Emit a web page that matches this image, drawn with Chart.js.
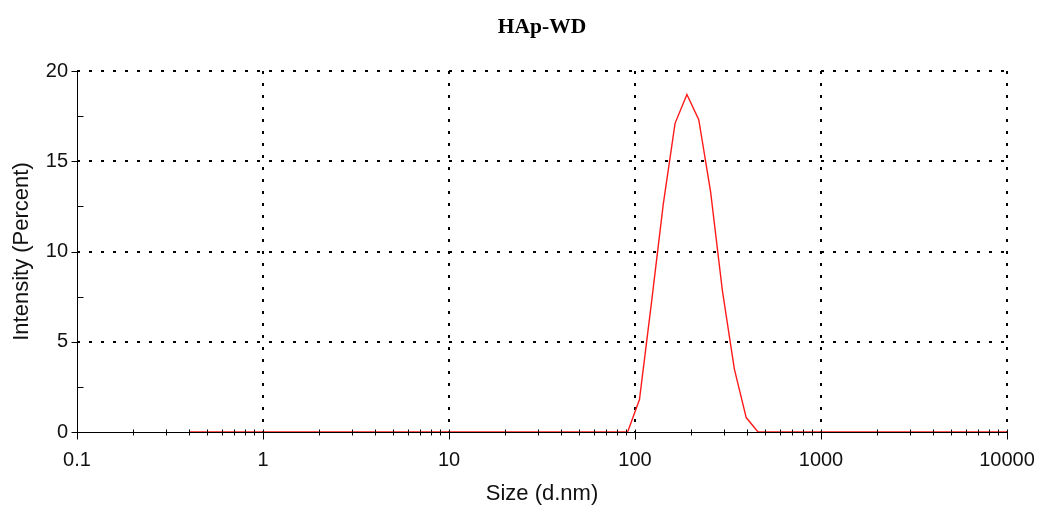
<!DOCTYPE html>
<html>
<head>
<meta charset="utf-8">
<script src="https://cdn.jsdelivr.net/npm/chart.js@4/dist/chart.umd.min.js"></script>
<style>
  html, body { margin: 0; padding: 0; background: #ffffff; }
  #wrap { width: 1045px; height: 508px; }
</style>
</head>
<body>
<div id="wrap"><canvas id="c" width="1045" height="508"></canvas></div>
<script>
// Size bins (d.nm)
const sizes = [0.4, 0.4632, 0.5365, 0.6213, 0.7195, 0.8332, 0.9649, 1.117, 1.294, 1.499,
  1.736, 2.01, 2.328, 2.696, 3.122, 3.615, 4.187, 4.849, 5.615, 6.503,
  7.531, 8.721, 10.1, 11.7, 13.54, 15.69, 18.17, 21.04, 24.36, 28.21,
  32.67, 37.84, 43.82, 50.75, 58.77, 68.06, 78.82, 91.28, 105.7, 122.4,
  141.8, 164.2, 190.1, 220.2, 255.0, 295.3, 342.0, 396.1, 458.7, 531.2,
  615.1, 712.4, 825.0, 955.4, 1106, 1281, 1484, 1718, 1990, 2305,
  2669, 3091, 3580, 4145, 4801, 5560, 6439, 7456, 8635, 10000];
// Intensity (Percent)
const intensity = [0, 0, 0, 0, 0, 0, 0, 0, 0, 0,
  0, 0, 0, 0, 0, 0, 0, 0, 0, 0,
  0, 0, 0, 0, 0, 0, 0, 0, 0, 0,
  0, 0, 0, 0, 0, 0, 0, 0, 1.8, 7.1,
  12.6, 17.1, 18.7, 17.3, 13.3, 7.8, 3.5, 0.8, 0, 0,
  0, 0, 0, 0, 0, 0, 0, 0, 0, 0,
  0, 0, 0, 0, 0, 0, 0, 0, 0, 0];
const xMajorTicks = [0.1, 1, 10, 100, 1000, 10000];
const xTickLabels = ['0.1', '1', '10', '100', '1000', '10000'];
const yMajorTicks = [0, 5, 10, 15, 20];
const yMinorTicks = [2.5, 7.5, 12.5, 17.5];
const titleText = 'HAp-WD';
const xTitle = 'Size (d.nm)';
const yTitle = 'Intensity (Percent)';

const points = sizes.map((s, i) => ({ x: s, y: intensity[i] }));

function isXMajor(v) { return xMajorTicks.some(m => Math.abs(v - m) / m < 1e-6); }
function isYMajor(v) { return yMajorTicks.some(m => Math.abs(v - m) < 1e-6); }

const axisPlugin = {
  id: 'axisTicks',
  afterDatasetsDraw(chart) {
    const ctx = chart.ctx;
    const xs = chart.scales.x, ys = chart.scales.y;
    const y0 = Math.round(ys.getPixelForValue(0)) + 0.5;
    const x0 = Math.round(xs.getPixelForValue(xMajorTicks[0])) + 0.5;
    ctx.save();
    ctx.strokeStyle = '#000';
    ctx.lineWidth = 1;
    ctx.beginPath();
    ctx.moveTo(xs.left, y0); ctx.lineTo(xs.right, y0);
    ctx.moveTo(x0, ys.top); ctx.lineTo(x0, y0);
    xs.ticks.forEach(t => {
      const px = Math.round(xs.getPixelForValue(t.value)) + 0.5;
      if (isXMajor(t.value)) { ctx.moveTo(px, y0 - 3); ctx.lineTo(px, y0 + 7); }
      else { ctx.moveTo(px, y0 - 3); ctx.lineTo(px, y0 + 3); }
    });
    ys.ticks.forEach(t => {
      const py = Math.round(ys.getPixelForValue(t.value)) + 0.5;
      if (isYMajor(t.value)) { ctx.moveTo(x0 - 6, py); ctx.lineTo(x0, py); }
      else { ctx.moveTo(x0, py); ctx.lineTo(x0 + 6, py); }
    });
    ctx.stroke();
    ctx.restore();
  }
};

const tickFont = { family: '"Liberation Sans", Arial, sans-serif', size: 20 };
const titleFont = { family: '"Liberation Sans", Arial, sans-serif', size: 22 };

new Chart(document.getElementById('c'), {
  type: 'line',
  data: {
    datasets: [{
      data: points,
      borderColor: '#ff1a1a',
      borderWidth: 1.4,
      pointRadius: 0,
      tension: 0,
      fill: false
    }]
  },
  options: {
    responsive: false,
    animation: false,
    events: [],
    layout: { padding: { left: 0, right: 38, top: 0, bottom: 0 } },
    plugins: {
      legend: { display: false },
      tooltip: { enabled: false },
      title: {
        display: true,
        fullSize: false,
        text: titleText,
        color: '#000',
        font: { family: '"Liberation Serif", "Times New Roman", serif', size: 21.5, weight: 'bold' },
        padding: { top: 15, bottom: 30.2 }
      }
    },
    scales: {
      x: {
        type: 'logarithmic',
        min: 0.1,
        max: 10000,
        afterBuildTicks(scale) {
          const vals = [];
          for (let i = 0; i < xMajorTicks.length - 1; i++) {
            for (let k = 1; k <= 9; k++) vals.push(xMajorTicks[i] * k);
          }
          vals.push(xMajorTicks[xMajorTicks.length - 1]);
          scale.ticks = vals.map(v => ({ value: v }));
        },
        afterFit(scale) { scale.height = 76; scale.paddingLeft = 0; scale.paddingRight = 0; },
        ticks: {
          autoSkip: false,
          maxRotation: 0,
          padding: 16,
          color: '#111',
          font: tickFont,
          callback(value) {
            const idx = xMajorTicks.findIndex(m => Math.abs(value - m) / m < 1e-6);
            return idx >= 0 ? xTickLabels[idx] : '';
          }
        },
        grid: {
          drawTicks: false,
          lineWidth: 2,
          color(c) {
            const v = c.tick ? c.tick.value : null;
            if (v === null) return 'rgba(0,0,0,0)';
            return (isXMajor(v) && Math.abs(v - xMajorTicks[0]) > 1e-9) ? '#000' : 'rgba(0,0,0,0)';
          }
        },
        border: { display: false, dash: [3, 9] },
        title: {
          display: true,
          text: xTitle,
          color: '#111',
          font: titleFont,
          padding: { top: 0, bottom: 1 }
        }
      },
      y: {
        type: 'linear',
        min: 0,
        max: 20,
        afterBuildTicks(scale) {
          const vals = yMajorTicks.concat(yMinorTicks).sort((a, b) => a - b);
          scale.ticks = vals.map(v => ({ value: v }));
        },
        afterFit(scale) { scale.width = 77; scale.paddingTop = 0; scale.paddingBottom = 0; },
        ticks: {
          autoSkip: false,
          padding: 9,
          color: '#111',
          font: tickFont,
          callback(value) { return isYMajor(value) ? String(value) : ''; }
        },
        grid: {
          drawTicks: false,
          lineWidth: 2,
          color(c) {
            const v = c.tick ? c.tick.value : null;
            if (v === null) return 'rgba(0,0,0,0)';
            return (isYMajor(v) && v > 0) ? '#000' : 'rgba(0,0,0,0)';
          }
        },
        border: { display: false, dash: [3, 9] },
        title: {
          display: true,
          text: yTitle,
          color: '#111',
          font: titleFont,
          padding: { top: 9, bottom: 0 }
        }
      }
    }
  },
  plugins: [axisPlugin]
});
</script>
</body>
</html>
